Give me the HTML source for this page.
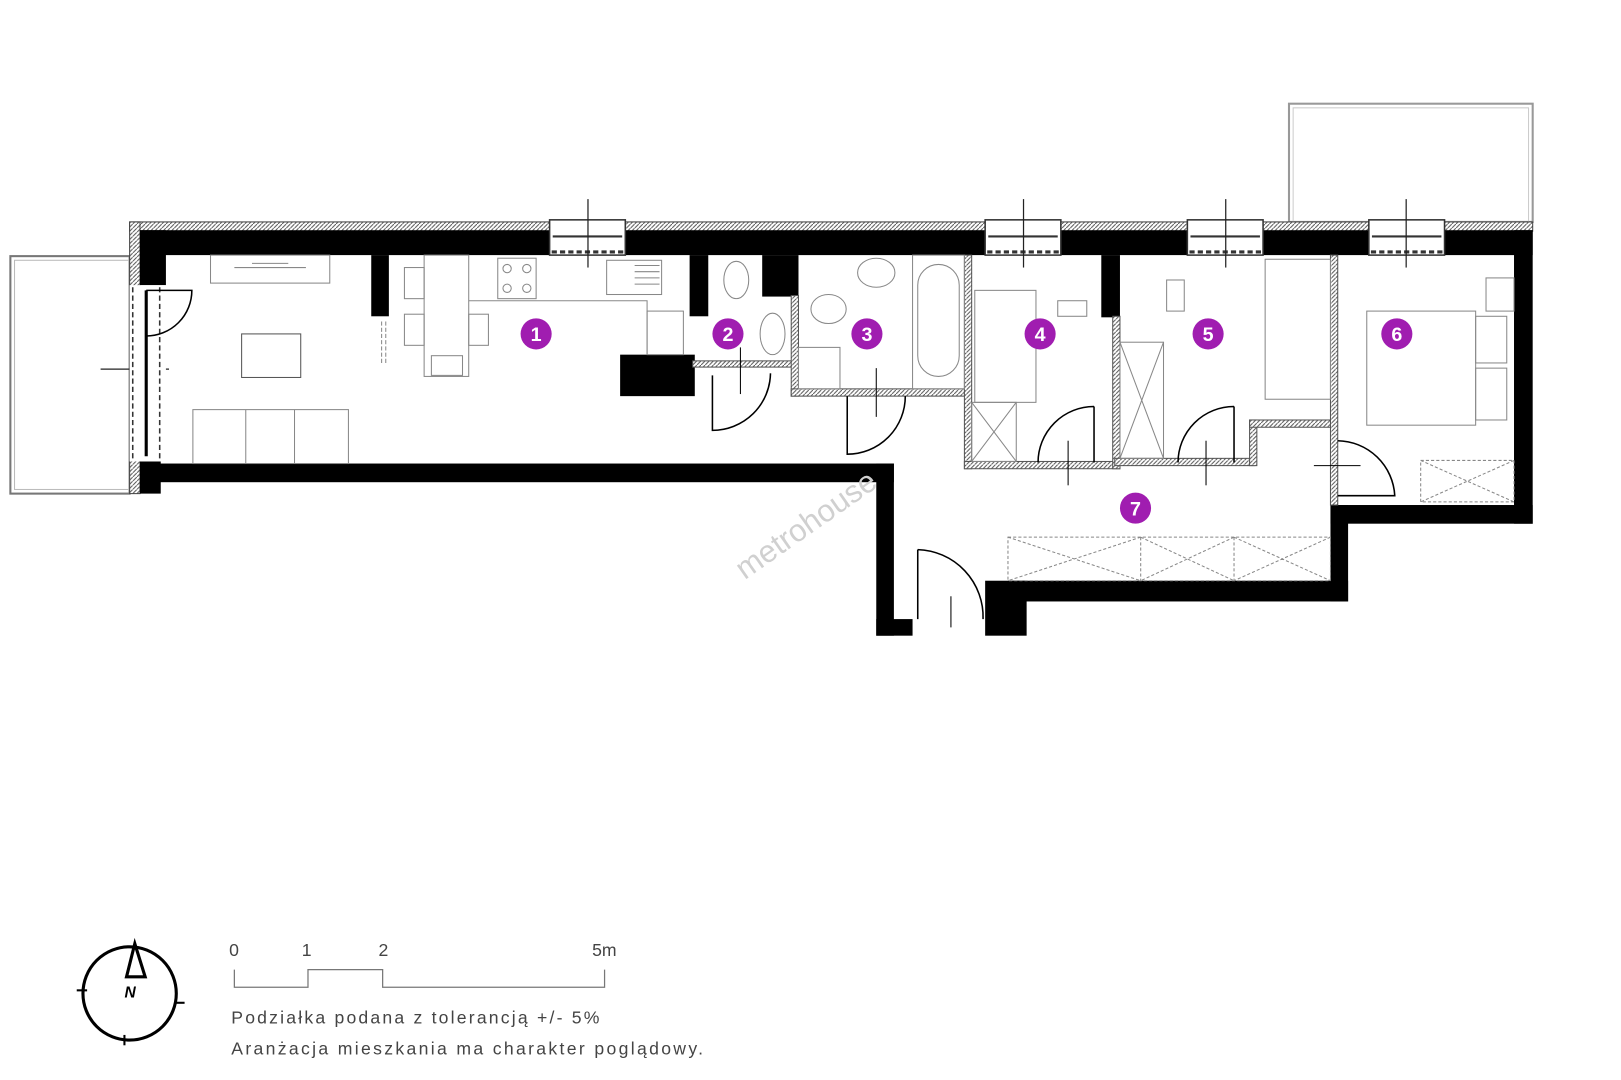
<!DOCTYPE html>
<html><head><meta charset="utf-8"><style>
html,body{margin:0;padding:0;background:#fff;}
svg{display:block}
</style></head><body>
<svg width="1621" height="1080" viewBox="0 0 1621 1080" xmlns="http://www.w3.org/2000/svg" font-family="Liberation Sans, sans-serif">
<defs>
<pattern id="h" width="4" height="4" patternUnits="userSpaceOnUse"><rect width="4" height="4" fill="#fff"/><path d="M0 4L4 0" stroke="#555" stroke-width="1"/></pattern>
</defs>
<g transform="scale(1.037)">
<!-- balconies -->
<rect x="10" y="247" width="115" height="229" fill="none" stroke="#777" stroke-width="2"/>
<rect x="14" y="251" width="111" height="221" fill="none" stroke="#bbb" stroke-width="1"/>
<rect x="1243" y="100" width="235" height="114" fill="none" stroke="#999" stroke-width="2"/>
<rect x="1247" y="104" width="227" height="110" fill="none" stroke="#ccc" stroke-width="1"/>
<!-- top hatched strip -->
<rect x="125" y="214" width="1353" height="9" fill="url(#h)" stroke="#444" stroke-width="1"/>
<rect x="125" y="214" width="10" height="262" fill="url(#h)" stroke="#444" stroke-width="1"/>
<!-- black walls -->
<g fill="#000">
<rect x="135" y="222" width="1343" height="24"/>
<rect x="135" y="222" width="25" height="53"/>
<rect x="135" y="445" width="20" height="31"/>
<rect x="135" y="447" width="727" height="18"/>
<rect x="845" y="447" width="17" height="166"/>
<rect x="845" y="597" width="35" height="16"/>
<rect x="950" y="560" width="40" height="53"/>
<rect x="972" y="560" width="328" height="20"/>
<rect x="1283" y="487" width="17" height="93"/>
<rect x="1283" y="487" width="195" height="18"/>
<rect x="1460" y="222" width="18" height="283"/>
<rect x="358" y="246" width="17" height="59"/>
<rect x="665" y="246" width="18" height="59"/>
<rect x="735" y="246" width="35" height="40"/>
<rect x="598" y="342" width="72" height="40"/>
<rect x="1062" y="246" width="18" height="60"/>
</g>
<!-- windows in top wall -->
<g fill="#fff" stroke="#333" stroke-width="1.5">
<rect x="530" y="212" width="73" height="34"/>
<rect x="950" y="212" width="73" height="34"/>
<rect x="1145" y="212" width="73" height="34"/>
<rect x="1320" y="212" width="73" height="34"/>
</g>
<g stroke="#333" stroke-width="2">
<line x1="533" y1="228" x2="600" y2="228"/><line x1="953" y1="228" x2="1020" y2="228"/><line x1="1148" y1="228" x2="1215" y2="228"/><line x1="1323" y1="228" x2="1390" y2="228"/>
</g>
<g stroke="#333" stroke-width="3" stroke-dasharray="5 3">
<line x1="532" y1="243" x2="601" y2="243"/><line x1="952" y1="243" x2="1021" y2="243"/><line x1="1147" y1="243" x2="1216" y2="243"/><line x1="1322" y1="243" x2="1391" y2="243"/>
</g>
<g stroke="#222" stroke-width="1.2">
<line x1="567" y1="192" x2="567" y2="258"/><line x1="987" y1="192" x2="987" y2="258"/><line x1="1182" y1="192" x2="1182" y2="258"/><line x1="1356" y1="192" x2="1356" y2="258"/>
<line x1="97" y1="356" x2="163" y2="356"/>
</g>
<!-- left window -->
<rect x="125" y="275" width="35" height="170" fill="#fff"/>
<line x1="128" y1="277" x2="128" y2="443" stroke="#333" stroke-width="1.5" stroke-dasharray="5 3"/>
<line x1="154" y1="277" x2="154" y2="443" stroke="#333" stroke-width="1.5" stroke-dasharray="5 3"/>
<line x1="141" y1="280" x2="141" y2="440" stroke="#000" stroke-width="3"/>
<path d="M141 280 L185 280 A44 44 0 0 1 141 324" fill="none" stroke="#000" stroke-width="1.5"/>
<!-- thin walls -->
<g fill="url(#h)" stroke="#555" stroke-width="1">
<rect x="668" y="348" width="100" height="6"/>
<rect x="763" y="285" width="7" height="97"/>
<rect x="763" y="375" width="170" height="7"/>
<rect x="930" y="246" width="7" height="206"/>
<rect x="930" y="445" width="150" height="7"/>
<rect x="1073" y="305" width="7" height="147"/>
<rect x="1075" y="442" width="135" height="7"/>
<rect x="1205" y="405" width="7" height="44"/>
<rect x="1205" y="405" width="80" height="7"/>
<rect x="1283" y="246" width="7" height="241"/>
</g>
<!-- doors -->
<g fill="none" stroke="#000" stroke-width="1.5">
<path d="M687 362 L687 415 A56 56 0 0 0 743 360"/>
<line x1="714" y1="335" x2="714" y2="380" stroke-width="1"/>
<path d="M817 382 L817 438 A56 56 0 0 0 873 382"/>
<line x1="845" y1="355" x2="845" y2="402" stroke-width="1"/>
<path d="M1055 392 L1055 446 M1055 392 A54 54 0 0 0 1001 446"/>
<line x1="1030" y1="425" x2="1030" y2="468" stroke-width="1"/>
<path d="M1190 392 L1190 446 M1190 392 A54 54 0 0 0 1136 446"/>
<line x1="1163" y1="425" x2="1163" y2="468" stroke-width="1"/>
<path d="M1290 425 A56 56 0 0 1 1345 478 L1290 478"/>
<line x1="1267" y1="449" x2="1312" y2="449" stroke-width="1"/>
<path d="M885 530 A65 65 0 0 1 948 597 M885 530 L885 597"/>
<line x1="917" y1="575" x2="917" y2="605" stroke-width="1"/>
</g>
<!-- furniture -->
<g fill="none" stroke="#888" stroke-width="1">
<rect x="203" y="246" width="115" height="27"/>
<path d="M226 258 L295 258 M243 254 L278 254"/>
<rect x="233" y="322" width="57" height="42" stroke="#555"/>
<rect x="186" y="395" width="150" height="52"/>
<line x1="237" y1="395" x2="237" y2="447"/><line x1="284" y1="395" x2="284" y2="447"/>
<rect x="409" y="246" width="43" height="117"/>
<rect x="390" y="258" width="19" height="30"/><rect x="390" y="303" width="19" height="30"/>
<rect x="452" y="303" width="19" height="30"/><rect x="416" y="343" width="30" height="19"/>
<line x1="368" y1="310" x2="368" y2="350" stroke-dasharray="4 2"/><line x1="372" y1="310" x2="372" y2="350" stroke-dasharray="4 2"/>
<path d="M452 290 L624 290 L624 342"/>
<rect x="480" y="249" width="37" height="39"/>
<circle cx="489" cy="259" r="4"/><circle cx="508" cy="259" r="4"/><circle cx="489" cy="278" r="4"/><circle cx="508" cy="278" r="4"/>
<rect x="585" y="251" width="53" height="33"/>
<path d="M612 256 L636 256 M612 262 L636 262 M612 268 L636 268 M612 274 L636 274"/>
<rect x="624" y="300" width="35" height="42"/>
<ellipse cx="710" cy="270" rx="12" ry="18"/>
<ellipse cx="745" cy="322" rx="12" ry="20"/>
<ellipse cx="799" cy="298" rx="17" ry="14"/>
<rect x="770" y="335" width="40" height="40"/>
<ellipse cx="845" cy="263" rx="18" ry="14"/>
<rect x="880" y="246" width="50" height="129"/>
<rect x="885" y="255" width="40" height="108" rx="20"/>
<rect x="940" y="280" width="59" height="108"/>
<rect x="1020" y="290" width="28" height="15"/>
<rect x="937" y="388" width="43" height="57"/><path d="M937 388 L980 445 M980 388 L937 445"/>
<rect x="1080" y="330" width="42" height="112"/><path d="M1080 330 L1122 442 M1122 330 L1080 442"/>
<rect x="1125" y="270" width="17" height="30"/>
<rect x="1220" y="250" width="63" height="135"/>
<rect x="1318" y="300" width="105" height="110"/>
<rect x="1423" y="305" width="30" height="45"/><rect x="1423" y="355" width="30" height="50"/>
<rect x="1433" y="268" width="27" height="32"/>
<rect x="1370" y="444" width="90" height="40" stroke-dasharray="3 2"/><path d="M1370 444 L1460 484 M1460 444 L1370 484" stroke-dasharray="3 2"/>
<rect x="972" y="518" width="311" height="42" stroke-dasharray="3 2"/>
<path d="M1100 518 L1100 560 M1190 518 L1190 560 M972 518 L1100 560 M1100 518 L972 560 M1100 518 L1190 560 M1190 518 L1100 560 M1190 518 L1283 560 M1283 518 L1190 560" stroke-dasharray="3 2"/>
</g>
<!-- watermark -->
<text x="780" y="515" transform="rotate(-35 780 510)" font-size="30" fill="#d0d0d0" text-anchor="middle">metrohouse</text>
<!-- room numbers -->
<g fill="#a01db0">
<circle cx="517" cy="322" r="15"/><circle cx="702" cy="322" r="15"/><circle cx="836" cy="322" r="15"/><circle cx="1003" cy="322" r="15"/><circle cx="1165" cy="322" r="15"/><circle cx="1347" cy="322" r="15"/><circle cx="1095" cy="490" r="15"/>
</g>
<g fill="#fff" font-size="19" font-weight="bold" text-anchor="middle">
<text x="517" y="329">1</text><text x="702" y="329">2</text><text x="836" y="329">3</text><text x="1003" y="329">4</text><text x="1165" y="329">5</text><text x="1347" y="329">6</text><text x="1095" y="497">7</text>
</g>
<!-- compass -->
<circle cx="125" cy="958" r="45" fill="none" stroke="#000" stroke-width="3"/>
<path d="M130 910 L122 942 L140 942 Z" fill="#fff" stroke="#000" stroke-width="3"/>
<text x="120" y="962" font-size="15" font-weight="bold" font-style="italic">N</text>
<g stroke="#000" stroke-width="2"><line x1="74" y1="955" x2="84" y2="955"/><line x1="168" y1="967" x2="178" y2="967"/><line x1="120" y1="998" x2="120" y2="1008"/></g>
<!-- scale -->
<g fill="none" stroke="#777" stroke-width="1.2">
<path d="M226 935 L226 952 L297 952 L297 935 L369 935 L369 952 L583 952 L583 935"/>
</g>
<g font-size="17" fill="#444">
<text x="221" y="922">0</text><text x="291" y="922">1</text><text x="365" y="922">2</text><text x="571" y="922">5m</text>
<text x="223" y="987" textLength="355">Podziałka podana z tolerancją +/- 5%</text>
<text x="223" y="1017" textLength="455">Aranżacja mieszkania ma charakter poglądowy.</text>
</g>
</g>
</svg>
</body></html>
